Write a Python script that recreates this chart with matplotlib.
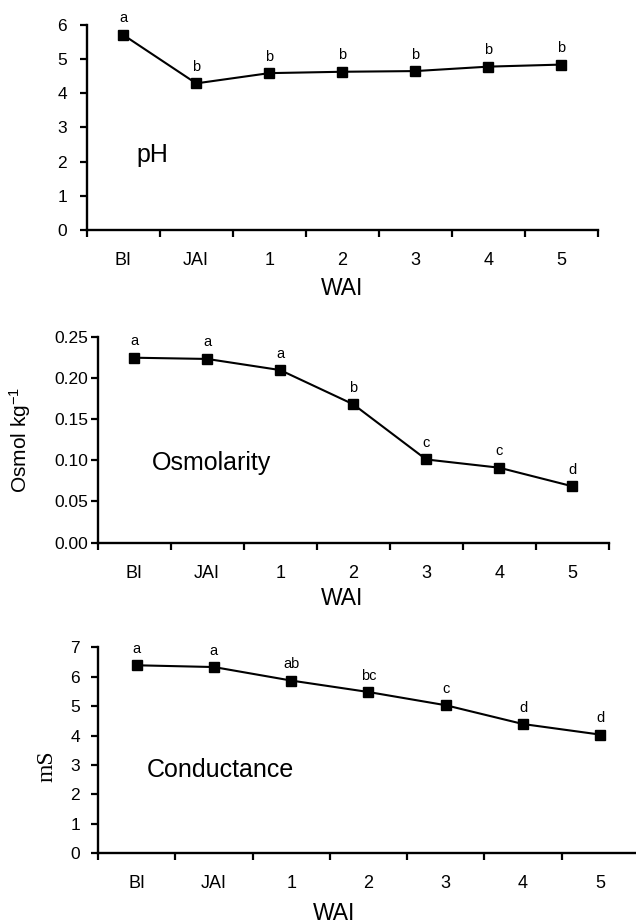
import numpy as np
import matplotlib
matplotlib.use('Agg')
import matplotlib.pyplot as plt

plt.rcParams['font.family'] = ['Liberation Sans', 'DejaVu Sans']
plt.rcParams['mathtext.fontset'] = 'custom'
plt.rcParams['mathtext.rm'] = 'Liberation Sans'
plt.rcParams['mathtext.it'] = 'Liberation Sans'

cats = ['BI', 'JAI', '1', '2', '3', '4', '5']

ph = [5.71, 4.29, 4.59, 4.63, 4.65, 4.78, 4.84]
ph_letters = ['a', 'b', 'b', 'b', 'b', 'b', 'b']

osmol = [0.2245, 0.223, 0.2095, 0.168, 0.101, 0.091, 0.0685]
osmol_letters = ['a', 'a', 'a', 'b', 'c', 'c', 'd']

cond = [6.39, 6.33, 5.87, 5.48, 5.03, 4.39, 4.03]
cond_letters = ['a', 'a', 'ab', 'bc', 'c', 'd', 'd']

fig = plt.figure(figsize=(6.36, 9.24), dpi=100)

ax1 = fig.add_axes([0.1363, 0.7511, 0.8035, 0.2219])
ax2 = fig.add_axes([0.1536, 0.4127, 0.8035, 0.2229])
ax3 = fig.add_axes([0.1541, 0.0768, 0.8506, 0.2226])


def panel(ax, vals, letters, ymax, yticks, fmt, ypad, name, name_xy):
    x = np.arange(len(cats))
    ax.plot(x, vals, color='black', lw=1.5, marker='s', ms=6.5, mfc='black', mec='black')
    for xi, v, l in zip(x, vals, letters):
        ax.annotate(l, (xi, v), xytext=(0, 9), textcoords='offset points',
                    ha='center', va='baseline', fontsize=10.5)
    ax.set_xlim(-0.5, len(cats) - 0.5)
    ax.set_ylim(0, ymax)
    ax.set_xticks(np.arange(-0.5, len(cats)))
    ax.set_xticklabels([])
    ax.set_xticks(x, minor=True)
    ax.set_xticklabels(cats, minor=True, fontsize=13)
    ax.tick_params(axis='x', which='major', direction='out', length=5, width=1.6)
    ax.tick_params(axis='x', which='minor', length=0, pad=16)
    ax.set_yticks(yticks)
    ax.set_yticklabels([fmt % t for t in yticks], fontsize=12.5)
    ax.tick_params(axis='y', direction='out', length=5, width=1.6, pad=ypad)
    for s in ['top', 'right']:
        ax.spines[s].set_visible(False)
    for s in ['left', 'bottom']:
        ax.spines[s].set_linewidth(1.7)
    ax.text(name_xy[0], name_xy[1], name, transform=ax.transAxes,
            ha='center', va='center', fontsize=18)


panel(ax1, ph, ph_letters, 6, np.arange(0, 7), '%d', 9, 'pH', (0.128, 0.366))
ax1.set_xlabel('WAI', fontsize=16.5)
ax1.xaxis.set_label_coords(0.50, -0.229)

panel(ax2, osmol, osmol_letters, 0.25, np.arange(0, 0.26, 0.05), '%.2f', 2,
      'Osmolarity', (0.222, 0.387))
ax2.set_xlabel('WAI', fontsize=16.5)
ax2.xaxis.set_label_coords(0.478, -0.214)
ax2.set_ylabel('Osmol kg$^{-1}$', fontsize=15)
ax2.yaxis.set_label_coords(-0.127, 0.5)

panel(ax3, cond, cond_letters, 7, np.arange(0, 8), '%d', 8,
      'Conductance', (0.2255, 0.403))
ax3.set_xlabel('WAI', fontsize=16.5)
ax3.xaxis.set_label_coords(0.436, -0.24)
ax3.set_ylabel('mS', fontsize=17, family='Liberation Serif')
ax3.yaxis.set_label_coords(-0.074, 0.42)

fig.savefig('out.png', dpi=100)
